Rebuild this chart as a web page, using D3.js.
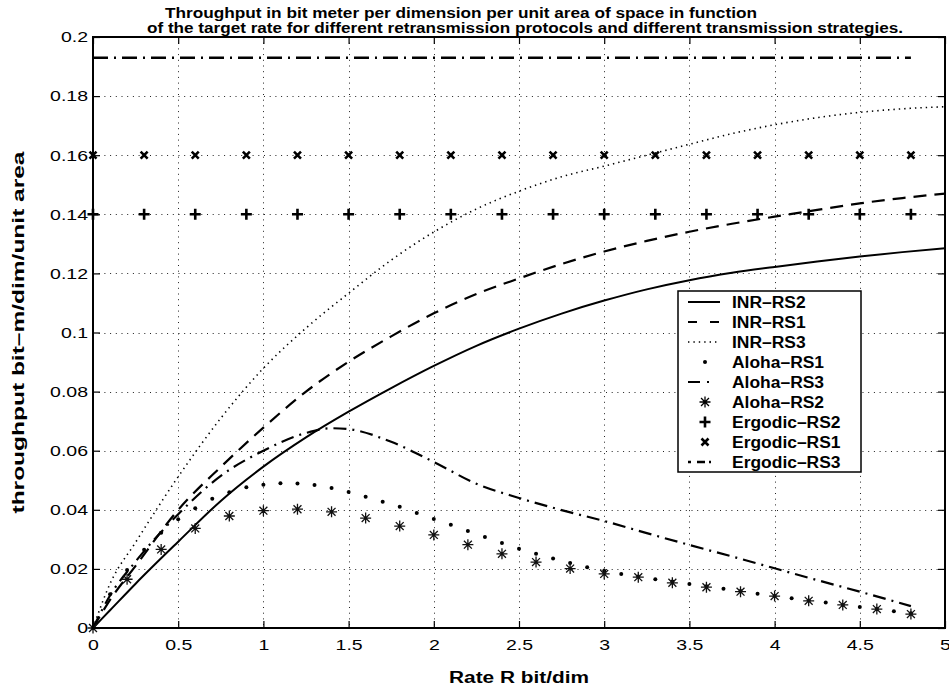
<!DOCTYPE html>
<html>
<head>
<meta charset="utf-8">
<script src="https://cdn.jsdelivr.net/npm/d3@7"></script>
<style>
  body { margin: 0; background: #fff; }
  svg { display: block; font-family: "Liberation Sans", Arial, sans-serif; }
</style>
</head>
<body>
<div id="container"></div>
<script>
'use strict'

// rate axis samples for the INR curves
const inrRate = [0, 0.1, 0.25, 0.5, 0.75, 1, 1.25, 1.5, 1.75, 2, 2.25, 2.5, 2.75, 3, 3.25, 3.5, 3.75, 4, 4.25, 4.5, 4.75, 5];
const inrRS2 = [0, 0.0060, 0.0150, 0.0292, 0.0430, 0.0546, 0.0645, 0.0732, 0.0812, 0.0887, 0.0955, 0.1013, 0.1064, 0.1108, 0.1146, 0.1177, 0.1202, 0.1222, 0.1240, 0.1257, 0.1272, 0.1285];
const inrRS1 = [0, 0.0095, 0.0210, 0.0400, 0.0545, 0.0678, 0.0800, 0.0901, 0.0987, 0.1065, 0.1130, 0.1183, 0.1232, 0.1274, 0.1310, 0.1341, 0.1368, 0.1392, 0.1415, 0.1437, 0.1455, 0.1470];
const inrRS3 = [0, 0.0150, 0.0290, 0.0512, 0.0710, 0.0879, 0.1015, 0.1133, 0.1245, 0.1340, 0.1418, 0.1478, 0.1527, 0.1563, 0.1600, 0.1637, 0.1673, 0.1703, 0.1727, 0.1745, 0.1757, 0.1764];

// Aloha RS3 (dash-dot line)
const alohaRS3Rate = [0, 0.1, 0.25, 0.5, 0.75, 1, 1.25, 1.4, 1.5, 1.75, 2, 2.25, 2.5, 2.75, 3, 3.25, 3.5, 3.75, 4, 4.25, 4.5, 4.8];
const alohaRS3 = [0, 0.0110, 0.0225, 0.0385, 0.0515, 0.0600, 0.0660, 0.0676, 0.0673, 0.0630, 0.0562, 0.0488, 0.0440, 0.0399, 0.0362, 0.0321, 0.0281, 0.0242, 0.0202, 0.0162, 0.0123, 0.0074];

// Aloha RS1 (dots, every 0.1)
const alohaRS1Rate = d3.range(0, 49).map(i => i / 10);
const alohaRS1 = [0, 0.0114, 0.0196, 0.0265, 0.0322, 0.0368, 0.0405, 0.0437, 0.0459, 0.0476,
  0.0485, 0.0490, 0.0489, 0.0484, 0.0474, 0.0460, 0.0444, 0.0427, 0.0410, 0.0389,
  0.0369, 0.0349, 0.0328, 0.0308, 0.0288, 0.0268, 0.0251, 0.0235, 0.0220, 0.0206,
  0.0194, 0.0183, 0.0174, 0.0165, 0.0157, 0.0149, 0.0141, 0.0133, 0.0125, 0.0116,
  0.0108, 0.0101, 0.0093, 0.0086, 0.0078, 0.0071, 0.0064, 0.0057, 0.0050];

// Aloha RS2 (stars, every 0.2)
const alohaRS2Rate = d3.range(0, 25).map(i => i / 5);
const alohaRS2 = [0, 0.0165, 0.0266, 0.0337, 0.0379, 0.0397, 0.0402, 0.0393, 0.0372, 0.0345,
  0.0315, 0.0282, 0.0251, 0.0223, 0.0201, 0.0183, 0.0172, 0.0153, 0.0138, 0.0123,
  0.0108, 0.0092, 0.0078, 0.0064, 0.0047];

// Ergodic (constant)
const ergodicRate = d3.range(0, 17).map(i => i * 0.3);
const ergodicRS2 = ergodicRate.map(() => 0.14);
const ergodicRS1 = ergodicRate.map(() => 0.16);
const ergodicRS3Rate = [0, 4.8];
const ergodicRS3 = [0.193, 0.193];

const xTicks = [0, 0.5, 1, 1.5, 2, 2.5, 3, 3.5, 4, 4.5, 5];
const yTicks = [0, 0.02, 0.04, 0.06, 0.08, 0.1, 0.12, 0.14, 0.16, 0.18, 0.2];

const legendLabels = ['INR\u2013RS2', 'INR\u2013RS1', 'INR\u2013RS3', 'Aloha\u2013RS1', 'Aloha\u2013RS3',
  'Aloha\u2013RS2', 'Ergodic\u2013RS2', 'Ergodic\u2013RS1', 'Ergodic\u2013RS3'];

const w = 949, h = 691;
const pLeft = 93, pRight = 945, pTop = 37, pBottom = 628;

const xScale = d3.scaleLinear().domain([0, 5]).range([pLeft, pRight]);
const yScale = d3.scaleLinear().domain([0, 0.2]).range([pBottom, pTop]);

const svg = d3.select('#container').append('svg').attr('width', w).attr('height', h);

// stretch text horizontally like the original figure
function stretch(sel, k) {
  sel.each(function() {
    const len = this.getComputedTextLength();
    d3.select(this).attr('textLength', len * k).attr('lengthAdjust', 'spacingAndGlyphs');
  });
}

// grid
const grid = svg.append('g').attr('stroke', '#222').attr('stroke-width', 1).attr('stroke-dasharray', '1,4.7');
grid.selectAll('line.gx').data(xTicks.slice(1, -1)).enter().append('line')
  .attr('x1', d => Math.round(xScale(d)) + 0.5).attr('x2', d => Math.round(xScale(d)) + 0.5)
  .attr('y1', pTop).attr('y2', pBottom);
grid.selectAll('line.gy').data(yTicks.slice(1, -1)).enter().append('line')
  .attr('y1', d => Math.round(yScale(d)) + 0.5).attr('y2', d => Math.round(yScale(d)) + 0.5)
  .attr('x1', pLeft).attr('x2', pRight);

const line = d3.line().x(d => xScale(d[0])).y(d => yScale(d[1])).curve(d3.curveMonotoneX);
const zip = (xs, ys) => xs.map((x, i) => [x, ys[i]]);

const styles = {
  solid:   { dash: null,         width: 2 },
  dashed:  { dash: '13,8',       width: 2.2 },
  dotted:  { dash: '1.4,4',      width: 1.6 },
  dashdot: { dash: '13,6,2,6',   width: 2.2 }
};

function drawLine(data, st) {
  svg.append('path').datum(data)
    .attr('d', line)
    .attr('fill', 'none')
    .attr('stroke', '#000')
    .attr('stroke-width', st.width)
    .attr('stroke-dasharray', st.dash);
}

drawLine(zip(inrRate, inrRS3), styles.dotted);
drawLine(zip(inrRate, inrRS1), styles.dashed);
drawLine(zip(inrRate, inrRS2), styles.solid);
drawLine(zip(alohaRS3Rate, alohaRS3), styles.dashdot);
drawLine(zip(ergodicRS3Rate, ergodicRS3), { dash: '15,6,2,6', width: 2.4 });

// marker shapes
const starPath = s => `M${-s},0H${s}M0,${-s}V${s}M${-s * 0.72},${-s * 0.72}L${s * 0.72},${s * 0.72}M${-s * 0.72},${s * 0.72}L${s * 0.72},${-s * 0.72}`;
const plusPath = s => `M${-s},0H${s}M0,${-s}V${s}`;
const crossPath = s => `M${-s},${-s}L${s},${s}M${-s},${s}L${s},${-s}`;

function drawMarkers(data, kind) {
  const g = svg.append('g');
  const pts = g.selectAll('.m').data(data).enter();
  if (kind === 'dot') {
    pts.append('circle').attr('cx', d => xScale(d[0])).attr('cy', d => yScale(d[1])).attr('r', 2).attr('fill', '#000');
  } else {
    const p = kind === 'star' ? starPath(5.5) : kind === 'plus' ? plusPath(5.5) : crossPath(3.5);
    const sw = kind === 'star' ? 1.3 : 2.6;
    pts.append('path').attr('d', p)
      .attr('transform', d => `translate(${xScale(d[0])},${yScale(d[1])})`)
      .attr('fill', 'none').attr('stroke', kind === 'star' ? '#111' : '#000').attr('stroke-width', sw);
  }
}

drawMarkers(zip(alohaRS1Rate, alohaRS1), 'dot');
drawMarkers(zip(alohaRS2Rate, alohaRS2), 'star');
drawMarkers(zip(ergodicRate, ergodicRS2), 'plus');
drawMarkers(zip(ergodicRate, ergodicRS1), 'cross');

// axes (ticks pointing inward, box all around)
const fmt = d => d === 0 ? '0' : String(+d.toFixed(2));
const axB = svg.append('g').attr('transform', `translate(0,${pBottom})`)
  .call(d3.axisBottom(xScale).tickValues(xTicks).tickSize(-7).tickPadding(11).tickFormat(fmt));
const axL = svg.append('g').attr('transform', `translate(${pLeft},0)`)
  .call(d3.axisLeft(yScale).tickValues(yTicks).tickSize(-7).tickPadding(5).tickFormat(fmt));
const axT = svg.append('g').attr('transform', `translate(0,${pTop})`)
  .call(d3.axisTop(xScale).tickValues(xTicks).tickSize(-7).tickFormat(''));
const axR = svg.append('g').attr('transform', `translate(${pRight},0)`)
  .call(d3.axisRight(yScale).tickValues(yTicks).tickSize(-7).tickFormat(''));

[axB, axL, axT, axR].forEach(a => {
  a.select('.domain').remove();
  a.selectAll('.tick line').attr('stroke', '#000').attr('stroke-width', 1.2);
  a.selectAll('.tick text').attr('fill', '#000').style('font-size', '15px')
    .style('font-family', '"Liberation Sans", Arial, sans-serif');
});
stretch(axB.selectAll('.tick text'), 1.3);
stretch(axL.selectAll('.tick text'), 1.3);

svg.append('rect')
  .attr('x', pLeft).attr('y', pTop).attr('width', pRight - pLeft).attr('height', pBottom - pTop)
  .attr('fill', 'none').attr('stroke', '#000').attr('stroke-width', 2);

// title and axis labels
svg.append('text').text('Throughput in bit meter per dimension per unit area of space in function')
  .attr('x', 165).attr('y', 18).style('font-size', '14px').style('font-weight', 'bold')
  .attr('textLength', 592).attr('lengthAdjust', 'spacingAndGlyphs');
svg.append('text').text('of the target rate for different retransmission protocols and different transmission strategies.')
  .attr('x', 147).attr('y', 33).style('font-size', '14px').style('font-weight', 'bold')
  .attr('textLength', 756).attr('lengthAdjust', 'spacingAndGlyphs');

const xl = svg.append('text').text('Rate R bit/dim')
  .attr('x', (pLeft + pRight) / 2).attr('y', 683).attr('text-anchor', 'middle')
  .style('font-size', '16px').style('font-weight', 'bold');
stretch(xl, 1.3);

svg.append('text').text('throughput bit\u2013m/dim/unit area')
  .attr('transform', `translate(24,${(pTop + pBottom) / 2}) rotate(-90)`)
  .attr('text-anchor', 'middle')
  .style('font-size', '17px').style('font-weight', 'bold')
  .attr('textLength', 362).attr('lengthAdjust', 'spacingAndGlyphs');

// legend
const lg = svg.append('g');
lg.append('rect').attr('x', 678).attr('y', 291).attr('width', 183).attr('height', 181)
  .attr('fill', '#fff').attr('stroke', '#000').attr('stroke-width', 1.5);

const legendKinds = [
  { line: styles.solid }, { line: { dash: '9,13', width: 2.2 } }, { line: { dash: '1.4,4', width: 1.6 } },
  { marker: 'dot' }, { line: { dash: '12,7,2,20', width: 2.2 } }, { marker: 'star' },
  { marker: 'plus' }, { marker: 'cross' }, { line: { dash: '3,6,8,4,2,20', width: 2.4 } }
];

legendLabels.forEach((lab, i) => {
  const cy = 302 + i * 20;
  const k = legendKinds[i];
  if (k.line) {
    lg.append('line').attr('x1', 688).attr('x2', 720).attr('y1', cy).attr('y2', cy)
      .attr('stroke', '#000').attr('stroke-width', k.line.width).attr('stroke-dasharray', k.line.dash);
  } else if (k.marker === 'dot') {
    lg.append('circle').attr('cx', 705).attr('cy', cy).attr('r', 2).attr('fill', '#000');
  } else {
    const p = k.marker === 'star' ? starPath(5.5) : k.marker === 'plus' ? plusPath(5.5) : crossPath(3.5);
    lg.append('path').attr('d', p).attr('transform', `translate(705,${cy})`)
      .attr('fill', 'none').attr('stroke', '#000').attr('stroke-width', k.marker === 'star' ? 1.3 : 2.6);
  }
  const t = lg.append('text').text(lab).attr('x', 732).attr('y', cy + 6)
    .style('font-size', '16px').style('font-weight', 'bold');
  stretch(t, 1.09);
});
</script>
</body>
</html>
